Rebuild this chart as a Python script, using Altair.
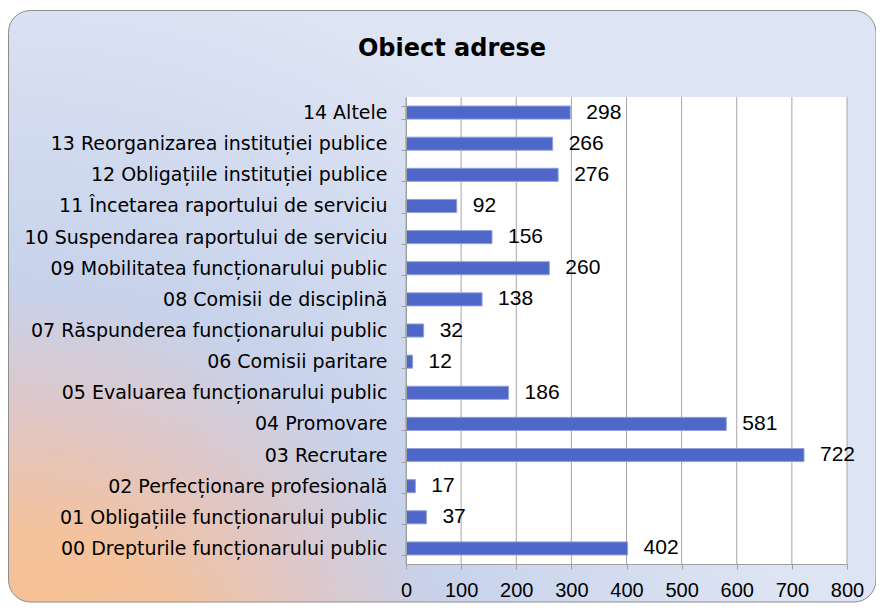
import altair as alt
import pandas as pd

categories = [
    "00 Drepturile funcționarului public",
    "01 Obligațiile funcționarului public",
    "02 Perfecționare profesională",
    "03 Recrutare",
    "04 Promovare ",
    "05 Evaluarea funcționarului public",
    "06 Comisii paritare",
    "07 Răspunderea funcționarului public",
    "08 Comisii de disciplină",
    "09 Mobilitatea funcționarului public",
    "10 Suspendarea raportului de serviciu",
    "11 Încetarea raportului de serviciu",
    "12 Obligațiile instituției publice",
    "13 Reorganizarea instituției publice",
    "14 Altele",
]
values = [402, 37, 17, 722, 581, 186, 12, 32, 138, 260, 156, 92, 276, 266, 298]
x_ticks = [0, 100, 200, 300, 400, 500, 600, 700, 800]
title_text = "Obiect adrese"

df = pd.DataFrame({"cat": categories, "val": values})
grid_df = pd.DataFrame({"g": x_ticks})
one = pd.DataFrame({"a": [0]})
order = categories[::-1]

W, H = 441, 467
PL, PT = 398, 89

bg_fill = alt.RadialGradient(
    gradient="radial",
    x1=0, y1=1, r1=0,
    x2=0, y2=1, r2=0.9,
    stops=[
        alt.GradientStop(offset=0, color="#F9BE88"),
        alt.GradientStop(offset=0.27, color="#F4C29C"),
        alt.GradientStop(offset=0.43, color="#DEC7C9"),
        alt.GradientStop(offset=0.58, color="#C7D2EB"),
        alt.GradientStop(offset=1, color="#DDE4F3"),
    ],
)

background = alt.Chart(one).mark_rect(
    fill=bg_fill, stroke="#8C8C8C", strokeWidth=1, cornerRadius=22
).encode(
    x=alt.value(-397.5), x2=alt.value(470), y=alt.value(-86.5), y2=alt.value(505)
)

plot_bg = alt.Chart(one).mark_rect(fill="white").encode(
    x=alt.value(0), x2=alt.value(W), y=alt.value(0), y2=alt.value(H)
)

title = alt.Chart(one).mark_text(
    text=title_text, font="DejaVu Sans", fontWeight="bold", fontSize=24,
    color="black", align="center", baseline="middle"
).encode(x=alt.value(46), y=alt.value(-48))

xscale = alt.Scale(domain=[0, 800], nice=False)
x_axis = alt.Axis(values=x_ticks, grid=False, labelFont="Liberation Sans",
                  labelFontSize=20, labelColor="black", tickSize=5,
                  tickColor="#A0A0A0", domainColor="#A0A0A0",
                  labelFlush=False, labelOverlap=False,
                  labelPadding=11, zindex=1)

grid = alt.Chart(grid_df).mark_rule(color="#A6A6A6", strokeWidth=1).encode(
    x=alt.X("g:Q", scale=xscale, title=None, axis=x_axis),
    y=alt.value(0), y2=alt.value(H),
)

ysc = alt.Scale(paddingInner=0.58, paddingOuter=0.29)

bars = alt.Chart(df).mark_bar(
    color="#4E67C8", stroke="#8FA0DE", strokeWidth=1
).encode(
    x=alt.X("val:Q", scale=xscale, title=None, axis=x_axis),
    y=alt.Y("cat:N", sort=order, scale=ysc, title=None,
            axis=alt.Axis(labelFont="DejaVu Sans", labelFontSize=19,
                          labelColor="black", tickBand="extent", tickSize=5,
                          tickColor="#A0A0A0", domainColor="#A0A0A0",
                          labelPadding=14, labelLimit=500, zindex=1)),
)

labels = alt.Chart(df).mark_text(
    align="left", baseline="middle", dx=16, font="Liberation Sans",
    fontSize=21, color="black"
).encode(
    x=alt.X("val:Q", scale=xscale, title=None, axis=x_axis),
    y=alt.Y("cat:N", sort=order, scale=ysc),
    text="val:Q",
)

chart = alt.layer(background, plot_bg, grid, bars, labels, title).properties(
    width=W, height=H,
    autosize=alt.AutoSizeParams(type="none"),
    padding={"left": PL, "top": PT, "right": 884 - 16 - PL - W, "bottom": 611 - 16 - PT - H},
    background="white",
).configure_view(stroke=None)

chart.save("out.html", embed_options={"renderer": "svg", "actions": False})
